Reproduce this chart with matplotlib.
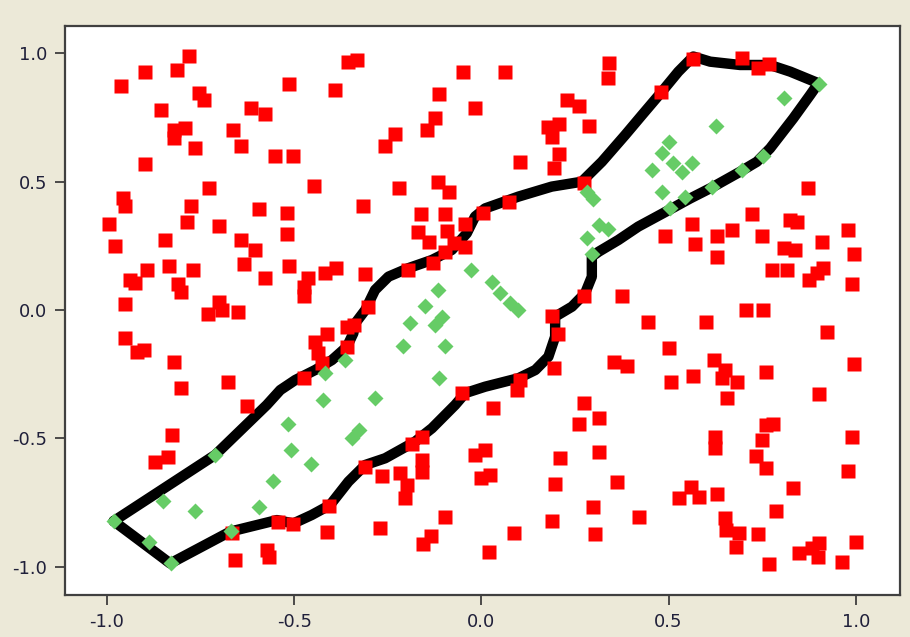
import numpy as np
import matplotlib
matplotlib.use('Agg')
import matplotlib.pyplot as plt

plt.rcParams['axes.unicode_minus'] = False

# boundary of the learned region (closed curve)
boundary = [(-0.982, -0.823), (-0.711, -0.565), (-0.573, -0.370), (-0.537, -0.312),
            (-0.497, -0.273), (-0.444, -0.234), (-0.399, -0.195), (-0.359, -0.143),
            (-0.342, -0.091), (-0.337, -0.052), (-0.310, 0.000), (-0.284, 0.078),
            (-0.248, 0.130), (-0.195, 0.163), (-0.132, 0.195), (-0.079, 0.234),
            (-0.039, 0.299), (-0.017, 0.364), (0.010, 0.396), (0.099, 0.442),
            (0.188, 0.481), (0.268, 0.500), (0.322, 0.578), (0.384, 0.682),
            (0.429, 0.760), (0.482, 0.851), (0.526, 0.929), (0.566, 0.988),
            (0.611, 0.968), (0.691, 0.955), (0.771, 0.955), (0.825, 0.929),
            (0.900, 0.884), (0.878, 0.838), (0.833, 0.747), (0.771, 0.630),
            (0.736, 0.578), (0.691, 0.539), (0.620, 0.481), (0.558, 0.435),
            (0.509, 0.396), (0.419, 0.325), (0.366, 0.273), (0.313, 0.227),
            (0.295, 0.208), (0.295, 0.130), (0.277, 0.065), (0.242, 0.013),
            (0.197, -0.026), (0.197, -0.104), (0.179, -0.182), (0.144, -0.234),
            (0.099, -0.266), (0.010, -0.299), (-0.043, -0.324), (-0.070, -0.370),
            (-0.132, -0.461), (-0.177, -0.513), (-0.257, -0.578), (-0.310, -0.604),
            (-0.355, -0.669), (-0.404, -0.760), (-0.453, -0.799), (-0.502, -0.832),
            (-0.546, -0.819), (-0.671, -0.864), (-0.831, -0.988), (-0.982, -0.823)]

# points outside (red squares)
red_pts = [(-0.780, 0.991), (-0.898, 0.929), (-0.812, 0.937), (-0.962, 0.874), (-0.755, 0.845),
           (-0.742, 0.819), (-0.855, 0.780), (-0.615, 0.789), (-0.577, 0.764), (-0.791, 0.711),
           (-0.822, 0.702), (-0.822, 0.669), (-0.663, 0.702), (-0.764, 0.630), (-0.641, 0.641),
           (-0.552, 0.600), (-0.898, 0.569), (-0.727, 0.477), (-0.956, 0.438), (-0.951, 0.407),
           (-0.775, 0.405), (-0.593, 0.394),
           (-0.356, 0.968), (-0.331, 0.975), (-0.048, 0.929), (-0.513, 0.881), (-0.390, 0.858),
           (-0.113, 0.842), (-0.017, 0.789), (-0.123, 0.750), (-0.145, 0.702), (-0.230, 0.686),
           (-0.257, 0.639), (-0.502, 0.600), (-0.448, 0.483), (-0.219, 0.477), (-0.117, 0.500),
           (-0.086, 0.461), (-0.315, 0.405), (-0.519, 0.378), (-0.161, 0.374), (-0.097, 0.374),
           (0.005, 0.378),
           (0.064, 0.929), (0.341, 0.962), (0.338, 0.906), (0.228, 0.819), (0.262, 0.795),
           (0.179, 0.715), (0.208, 0.725), (0.188, 0.676), (0.288, 0.717), (0.208, 0.608),
           (0.193, 0.555), (0.102, 0.578), (0.480, 0.851), (0.566, 0.977), (0.273, 0.494),
           (0.074, 0.422),
           (0.696, 0.984), (0.740, 0.945), (0.767, 0.958), (0.871, 0.474), (0.722, 0.374),
           (0.825, 0.351), (0.844, 0.342), (0.563, 0.335), (0.669, 0.312), (0.630, 0.288),
           (0.749, 0.288), (0.978, 0.312), (0.571, 0.257), (0.807, 0.243), (0.838, 0.234),
           (0.909, 0.264), (0.994, 0.217), (0.629, 0.207), (0.776, 0.156), (0.817, 0.156),
           (0.913, 0.163), (0.896, 0.143), (0.876, 0.117), (0.989, 0.101), (0.706, 0.000),
           (0.753, 0.000), (0.599, -0.048), (0.924, -0.087), (0.620, -0.195), (0.651, -0.234),
           (0.642, -0.266), (0.682, -0.280), (0.566, -0.256), (0.760, -0.243), (0.994, -0.211),
           (0.903, -0.329), (0.657, -0.344),
           (0.491, 0.288), (0.375, 0.055), (0.273, 0.055), (0.444, -0.048), (0.188, -0.023),
           (0.204, -0.095), (0.502, -0.149), (0.353, -0.204), (0.390, -0.218), (0.193, -0.227),
           (0.507, -0.282), (0.102, -0.273), (0.096, -0.312), (0.032, -0.382), (0.273, -0.364),
           (-0.518, 0.296), (-0.513, 0.172), (-0.170, 0.305), (-0.139, 0.266), (-0.092, 0.309),
           (-0.043, 0.335), (-0.074, 0.260), (-0.043, 0.247), (-0.097, 0.227), (-0.128, 0.182),
           (-0.196, 0.156), (-0.310, 0.140), (-0.389, 0.163), (-0.417, 0.143), (-0.462, 0.124),
           (-0.475, 0.091), (-0.475, 0.055), (-0.304, 0.013), (-0.359, -0.065), (-0.339, -0.058),
           (-0.444, -0.124), (-0.413, -0.094), (-0.435, -0.169), (-0.359, -0.143), (-0.426, -0.208),
           (-0.475, -0.266), (-0.052, -0.322),
           (-0.994, 0.335), (-0.785, 0.342), (-0.700, 0.327), (-0.978, 0.250), (-0.844, 0.273),
           (-0.641, 0.273), (-0.604, 0.234), (-0.635, 0.179), (-0.577, 0.124), (-0.834, 0.172),
           (-0.893, 0.156), (-0.938, 0.117), (-0.924, 0.106), (-0.769, 0.156), (-0.810, 0.101),
           (-0.802, 0.071), (-0.951, 0.022), (-0.700, 0.032), (-0.730, -0.016), (-0.693, 0.000),
           (-0.651, -0.009), (-0.951, -0.110), (-0.920, -0.163), (-0.902, -0.156), (-0.822, -0.204),
           (-0.678, -0.282), (-0.802, -0.305), (-0.625, -0.374),
           (-0.826, -0.487), (-0.838, -0.572), (-0.871, -0.594), (-0.666, -0.871), (-0.657, -0.975),
           (-0.573, -0.936), (-0.566, -0.962),
           (-0.542, -0.825), (-0.502, -0.834), (-0.413, -0.867), (-0.406, -0.764), (-0.310, -0.611),
           (-0.270, -0.851), (-0.186, -0.524), (-0.159, -0.494), (-0.159, -0.585), (-0.159, -0.630),
           (-0.266, -0.647), (-0.217, -0.637), (-0.199, -0.682), (-0.203, -0.734), (-0.097, -0.806),
           (-0.134, -0.881), (-0.155, -0.913), (-0.017, -0.565), (0.010, -0.546), (-0.001, -0.656),
           (0.021, -0.942),
           (0.262, -0.446), (0.315, -0.422), (0.209, -0.578), (0.315, -0.555), (0.023, -0.643),
           (0.197, -0.680), (0.363, -0.672), (0.299, -0.767), (0.421, -0.806), (0.188, -0.821),
           (0.086, -0.868), (0.304, -0.874), (0.529, -0.734), (0.560, -0.689), (0.581, -0.728),
           (0.625, -0.494), (0.625, -0.539), (0.760, -0.448), (0.780, -0.446), (0.749, -0.507),
           (0.733, -0.569), (0.760, -0.617), (0.989, -0.494), (0.979, -0.627), (0.630, -0.719),
           (0.833, -0.695), (0.786, -0.782), (0.651, -0.812), (0.654, -0.858), (0.689, -0.871),
           (0.680, -0.923), (0.738, -0.874), (0.847, -0.946), (0.883, -0.927), (0.903, -0.910),
           (0.900, -0.962), (1.000, -0.906), (0.963, -0.984), (0.769, -0.991)]

# points inside (green diamonds)
green_pts = [(0.282, 0.461), (0.299, 0.433), (0.500, 0.656), (0.482, 0.611), (0.513, 0.572),
             (0.562, 0.572), (0.535, 0.539), (0.455, 0.546), (0.482, 0.461), (0.544, 0.442),
             (0.504, 0.396), (0.903, 0.880), (0.809, 0.825), (0.626, 0.717), (0.753, 0.600),
             (0.696, 0.546), (0.615, 0.481), (0.313, 0.331), (0.339, 0.315), (0.282, 0.282),
             (0.295, 0.218), (0.028, 0.110), (0.050, 0.065), (0.077, 0.026), (0.099, 0.000),
             (-0.027, 0.156), (-0.116, 0.078), (-0.150, 0.016), (-0.105, -0.026), (-0.125, -0.058),
             (-0.190, -0.052), (-0.208, -0.140), (-0.097, -0.140), (-0.364, -0.195), (-0.417, -0.247),
             (-0.112, -0.266), (-0.422, -0.351), (-0.284, -0.344), (-0.711, -0.565), (-0.850, -0.745),
             (-0.764, -0.784), (-0.982, -0.823), (-0.887, -0.906), (-0.828, -0.988), (-0.669, -0.862),
             (-0.595, -0.767), (-0.557, -0.667), (-0.517, -0.446), (-0.328, -0.468), (-0.346, -0.500),
             (-0.508, -0.546), (-0.454, -0.602)]

ticks = [-1.0, -0.5, 0.0, 0.5, 1.0]
tick_labels = ['-1.0', '-0.5', '0.0', '0.5', '1.0']

fig = plt.figure(figsize=(9.1, 6.37), dpi=100, facecolor='#ece9d8')
ax = fig.add_axes([65/910, 1-595/637, 835/910, 569/637])
ax.set_facecolor('white')

bx, by = zip(*boundary)
ax.plot(bx, by, color='black', lw=7.5, solid_joinstyle='round', solid_capstyle='round', zorder=2)

rx, ry = zip(*red_pts)
ax.plot(rx, ry, ls='none', marker='s', ms=10, mfc='#ff0000', mec='none', zorder=3)

gx, gy = zip(*green_pts)
ax.plot(gx, gy, ls='none', marker='D', ms=8.2, mfc='#66cc66', mec='none', zorder=4)

ax.set_xlim(-1.112, 1.118)
ax.set_ylim(-1.111, 1.107)
ax.set_xticks(ticks)
ax.set_xticklabels(tick_labels)
ax.set_yticks(ticks)
ax.set_yticklabels(tick_labels)
ax.tick_params(direction='out', length=7, width=1.2, color='#303030',
               labelsize=13, labelcolor='#20203a', pad=6)
for s in ax.spines.values():
    s.set_color('#404040')
    s.set_linewidth(1.6)

fig.savefig('out.png', dpi=100, facecolor=fig.get_facecolor())
